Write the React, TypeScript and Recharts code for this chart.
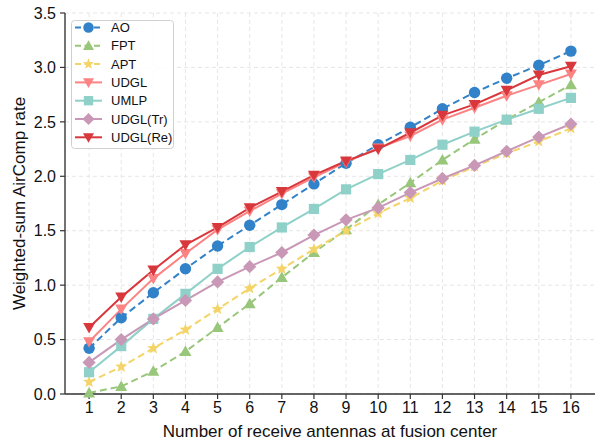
import React from "react";
import { LineChart, Line, XAxis, YAxis, CartesianGrid } from "recharts";

const antennas = [1, 2, 3, 4, 5, 6, 7, 8, 9, 10, 11, 12, 13, 14, 15, 16];
const xTicks = antennas;
const yTicks = [0, 0.5, 1, 1.5, 2, 2.5, 3, 3.5];

const ao = [0.42, 0.70, 0.93, 1.15, 1.36, 1.55, 1.74, 1.93, 2.12, 2.29, 2.45, 2.62, 2.77, 2.90, 3.02, 3.15];
const fpt = [0.01, 0.07, 0.21, 0.39, 0.61, 0.83, 1.07, 1.30, 1.51, 1.74, 1.94, 2.15, 2.34, 2.52, 2.68, 2.84];
const apt = [0.11, 0.25, 0.42, 0.59, 0.78, 0.97, 1.15, 1.33, 1.50, 1.66, 1.80, 1.96, 2.09, 2.21, 2.32, 2.44];
const udgl = [0.48, 0.78, 1.06, 1.29, 1.51, 1.68, 1.84, 1.99, 2.13, 2.26, 2.37, 2.52, 2.63, 2.74, 2.84, 2.94];
const umlp = [0.20, 0.44, 0.69, 0.92, 1.15, 1.35, 1.53, 1.70, 1.88, 2.02, 2.15, 2.29, 2.41, 2.52, 2.62, 2.72];
const udglTr = [0.29, 0.50, 0.69, 0.86, 1.03, 1.17, 1.30, 1.46, 1.60, 1.71, 1.85, 1.98, 2.10, 2.23, 2.36, 2.48];
const udglRe = [0.61, 0.89, 1.14, 1.37, 1.53, 1.71, 1.86, 2.01, 2.14, 2.25, 2.40, 2.56, 2.66, 2.79, 2.93, 3.01];

type Shape = "circle" | "triangle" | "star" | "tridown" | "square" | "diamond";

const seriesDefs: { key: string; name: string; values: number[]; color: string; dashed: boolean; shape: Shape }[] = [
  { key: "ao", name: "AO", values: ao, color: "#3182c8", dashed: true, shape: "circle" },
  { key: "fpt", name: "FPT", values: fpt, color: "#98c67a", dashed: true, shape: "triangle" },
  { key: "apt", name: "APT", values: apt, color: "#f4d468", dashed: true, shape: "star" },
  { key: "udgl", name: "UDGL", values: udgl, color: "#fb8383", dashed: false, shape: "tridown" },
  { key: "umlp", name: "UMLP", values: umlp, color: "#8fd1c9", dashed: false, shape: "square" },
  { key: "tr", name: "UDGL(Tr)", values: udglTr, color: "#c898b6", dashed: false, shape: "diamond" },
  { key: "re", name: "UDGL(Re)", values: udglRe, color: "#d8383c", dashed: false, shape: "tridown" },
];

const data = antennas.map((n, i) => {
  const row: Record<string, number> = { n };
  seriesDefs.forEach((s) => (row[s.key] = s.values[i]));
  return row;
});

function Marker({ cx, cy, shape, color, size = 6 }: { cx: number; cy: number; shape: Shape; color: string; size?: number }) {
  if (cx == null || cy == null) return null;
  const r = size;
  switch (shape) {
    case "circle":
      return <circle cx={cx} cy={cy} r={r * 0.95} fill={color} />;
    case "square":
      return <rect x={cx - r * 0.85} y={cy - r * 0.85} width={r * 1.7} height={r * 1.7} fill={color} />;
    case "diamond":
      return <polygon points={`${cx},${cy - r * 1.1} ${cx + r * 1.1},${cy} ${cx},${cy + r * 1.1} ${cx - r * 1.1},${cy}`} fill={color} />;
    case "triangle":
      return <polygon points={`${cx},${cy - r} ${cx + r},${cy + r * 0.75} ${cx - r},${cy + r * 0.75}`} fill={color} />;
    case "tridown":
      return <polygon points={`${cx},${cy + r} ${cx + r},${cy - r * 0.75} ${cx - r},${cy - r * 0.75}`} fill={color} />;
    case "star": {
      const pts: string[] = [];
      for (let k = 0; k < 10; k++) {
        const ang = -Math.PI / 2 + (k * Math.PI) / 5;
        const rad = k % 2 === 0 ? r * 1.05 : r * 0.45;
        pts.push(`${cx + rad * Math.cos(ang)},${cy + rad * Math.sin(ang)}`);
      }
      return <polygon points={pts.join(" ")} fill={color} />;
    }
  }
  return null;
}

const FONT = "'Liberation Sans', Arial, Helvetica, sans-serif";

function LegendBox() {
  const rowH = 18.3;
  return (
    <svg width={104} height={130} style={{ display: "block" }}>
      <rect x={0.5} y={0.5} width={102} height={128} rx={3} ry={3} fill="rgba(255,255,255,0.85)" stroke="#d0d0d0" />
      {seriesDefs.map((s, i) => {
        const cy = 7.5 + rowH * i;
        return (
          <g key={s.key}>
            <line x1={4} x2={31} y1={cy} y2={cy} stroke={s.color} strokeWidth={2} strokeDasharray={s.dashed ? "6 3.5" : undefined} />
            <Marker cx={17.5} cy={cy} shape={s.shape} color={s.color} size={5.5} />
            <text x={40} y={cy + 4.6} fontSize={13} fontFamily={FONT} fill="#111">
              {s.name}
            </text>
          </g>
        );
      })}
    </svg>
  );
}

export default function App() {
  return (
    <div style={{ position: "absolute", left: 0, top: 0, width: 595, height: 441, background: "#fff" }}>
      <LineChart width={595} height={441} data={data} margin={{ top: 13, right: 0, bottom: 0, left: 0 }}>
        <CartesianGrid stroke="#e6e6e6" strokeDasharray="4 3" verticalValues={xTicks} horizontalValues={yTicks} />
        <XAxis
          dataKey="n"
          type="number"
          domain={[0.25, 16.75]}
          ticks={xTicks}
          interval={0}
          allowDataOverflow
          height={47}
          tickSize={5}
          tickMargin={3}
          axisLine={{ stroke: "#333", strokeWidth: 1.5 }}
          tickLine={{ stroke: "#333", strokeWidth: 1.2 }}
          tick={{ fill: "#111", fontSize: 16, fontFamily: FONT }}
          label={{ value: "Number of receive antennas at fusion center", position: "insideBottom", offset: 4, style: { fill: "#111", fontSize: 17, fontFamily: FONT } }}
        />
        <XAxis xAxisId="top" orientation="top" dataKey="n" type="number" domain={[0.25, 16.75]} height={0} tick={false} tickLine={false} axisLine={{ stroke: "#333", strokeWidth: 1.5 }} />
        <YAxis
          type="number"
          domain={[0, 3.5]}
          ticks={yTicks}
          interval={0}
          width={65}
          tickSize={5}
          tickMargin={4}
          tickFormatter={(v: number) => v.toFixed(1)}
          axisLine={{ stroke: "#444", strokeWidth: 1.5 }}
          tickLine={{ stroke: "#333", strokeWidth: 1.2 }}
          tick={{ fill: "#111", fontSize: 16, fontFamily: FONT }}
          label={{ value: "Weighted-sum AirComp rate", angle: -90, position: "center", dx: -14, style: { fill: "#111", fontSize: 17, fontFamily: FONT, textAnchor: "middle" } }}
        />
        {seriesDefs.map((s) => (
          <Line
            key={s.key}
            dataKey={s.key}
            name={s.name}
            stroke={s.color}
            strokeWidth={2}
            strokeDasharray={s.dashed ? "7 4" : undefined}
            isAnimationActive={false}
            dot={(p: any) => <Marker key={`${s.key}-${p.index}`} cx={p.cx} cy={p.cy} shape={s.shape} color={s.color} />}
            activeDot={false}
            type="linear"
          />
        ))}
      </LineChart>
      <div style={{ position: "absolute", left: 71, top: 20 }}>
        <LegendBox />
      </div>
    </div>
  );
}
